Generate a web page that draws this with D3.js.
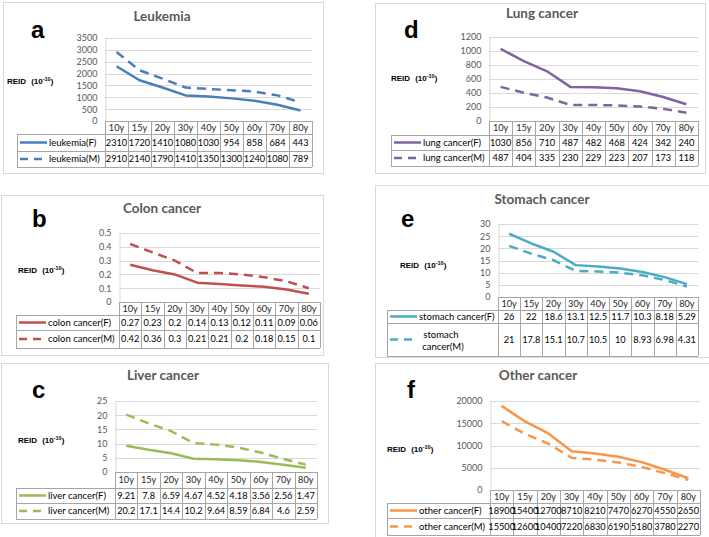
<!DOCTYPE html>
<html><head><meta charset="utf-8">
<script src="https://cdn.jsdelivr.net/npm/d3@7"></script>
<style>body{margin:0;background:#fff} svg{display:block}</style>
</head><body>
<script>
const ages = ["10y","15y","20y","30y","40y","50y","60y","70y","80y"];

const leukF = [2310,1720,1410,1080,1030,954,858,684,443];
const leukM = [2910,2140,1790,1410,1350,1300,1240,1080,789];
const colonF = [0.27,0.23,0.2,0.14,0.13,0.12,0.11,0.09,0.06];
const colonM = [0.42,0.36,0.3,0.21,0.21,0.2,0.18,0.15,0.1];
const liverF = [9.21,7.8,6.59,4.67,4.52,4.18,3.56,2.56,1.47];
const liverM = [20.2,17.1,14.4,10.2,9.64,8.59,6.84,4.6,2.59];
const lungF = [1030,856,710,487,482,468,424,342,240];
const lungM = [487,404,335,230,229,223,207,173,118];
const stomachF = [26,22,18.6,13.1,12.5,11.7,10.3,8.18,5.29];
const stomachM = [21,17.8,15.1,10.7,10.5,10,8.93,6.98,4.31];
const otherF = [18900,15400,12700,8710,8210,7470,6270,4550,2650];
const otherM = [15500,12600,10400,7220,6830,6190,5180,3780,2270];

const leukTicks = [0,500,1000,1500,2000,2500,3000,3500];
const colonTicks = [0,0.1,0.2,0.3,0.4,0.5];
const liverTicks = [0,5,10,15,20,25];
const lungTicks = [0,200,400,600,800,1000,1200];
const stomachTicks = [0,5,10,15,20,25,30];
const otherTicks = [0,5000,10000,15000,20000];

const panels = [
 {letter:"a", title:"Leukemia", name:"leukemia", F:leukF, M:leukM, ticks:leukTicks, color:"#4a7ebb",
  box:[3,2,320,171], px:[105,312], py:[38,121], rows:[134,151,167], lx:17, tp:[162,21], lp:[31,38], rp:[7,84]},
 {letter:"b", title:"Colon cancer", name:"colon cancer", F:colonF, M:colonM, ticks:colonTicks, color:"#c0504d",
  box:[1,195,322,160], px:[119,320], py:[233,302], rows:[315,330,348], lx:16, tp:[162,213], lp:[32,227], rp:[18,273]},
 {letter:"c", title:"Liver cancer", name:"liver cancer", F:liverF, M:liverM, ticks:liverTicks, color:"#9bbb59",
  box:[1,363,327,160], px:[115,317], py:[401,472], rows:[488,503,519], lx:16, tp:[163,380], lp:[32,398], rp:[18,443]},
 {letter:"d", title:"Lung cancer", name:"lung cancer", F:lungF, M:lungM, ticks:lungTicks, color:"#8064a2",
  box:[375,3,330,170], px:[489,698], py:[37,121], rows:[135,150,166], lx:391, tp:[542,18], lp:[404,38], rp:[391,81]},
 {letter:"e", title:"Stomach cancer", name:"stomach cancer", F:stomachF, M:stomachM, ticks:stomachTicks, color:"#4bacc6",
  box:[375,185,336,172], px:[498,698], py:[224,297], rows:[310,323,356], lx:387, tp:[542,204], lp:[401,227], rp:[400,268], wrapM:true},
 {letter:"f", title:"Other cancer", name:"other cancer", F:otherF, M:otherM, ticks:otherTicks, color:"#f79646",
  box:[375,363,336,176], px:[490,700], py:[401,490], rows:[503,518,535], lx:387, tp:[538,380], lp:[407,398], rp:[387,452]}
];

const svg = d3.select("body").append("svg").attr("width",709).attr("height",537)
  .style("font-family","Lato, 'Open Sans', sans-serif");

const tableColor = "#a6a6a6";
const gridColor = "#d9d9d9";

panels.forEach(p => {
  const g = svg.append("g");
  g.append("rect").attr("x",p.box[0]+0.5).attr("y",p.box[1]+0.5).attr("width",p.box[2]).attr("height",p.box[3])
    .attr("fill","#fff").attr("stroke","#d9d9d9");

  g.append("text").attr("x",p.tp[0]).attr("y",p.tp[1]).attr("text-anchor","middle")
    .attr("font-size",13.5).attr("font-weight","bold").attr("fill","#595959").text(p.title);

  g.append("text").attr("x",p.lp[0]).attr("y",p.lp[1])
    .style("font-family","'Liberation Sans', Arial, sans-serif")
    .attr("font-size",24).attr("font-weight","bold").attr("fill","#000").text(p.letter);

  const r = g.append("text").attr("x",p.rp[0]).attr("y",p.rp[1])
    .style("font-family","'Liberation Sans', Arial, sans-serif")
    .attr("font-size",8).attr("font-weight","bold").attr("fill","#000");
  r.append("tspan").text("REID");
  r.append("tspan").attr("dx",5).text("(10");
  r.append("tspan").attr("font-size",5.5).attr("dy",-3).text("-10");
  r.append("tspan").attr("dy",3).text(")");

  const x = d3.scaleBand().domain(ages).range(p.px).paddingInner(0).paddingOuter(0);
  const bw = x.bandwidth();
  const cx = d => x(d) + bw/2;
  const y = d3.scaleLinear().domain([0, d3.max(p.ticks)]).range([p.py[1], p.py[0]]);

  g.append("g").selectAll("line").data(p.ticks.filter(t => t > 0)).join("line")
    .attr("x1",p.px[0]).attr("x2",p.px[1]).attr("y1",d=>Math.round(y(d))+0.5).attr("y2",d=>Math.round(y(d))+0.5)
    .attr("stroke",gridColor);

  const ax = g.append("g").attr("transform",`translate(${p.px[0]+0.5},0)`)
    .call(d3.axisLeft(y).tickValues(p.ticks).tickSize(0).tickPadding(8).tickFormat(d3.format("")));
  ax.select(".domain").attr("stroke",gridColor);
  ax.selectAll("text").attr("fill","#595959").attr("font-size",9).style("font-family","Lato, 'Open Sans', sans-serif");

  const line = d3.line().x((d,i)=>cx(ages[i])).y(d=>y(d));
  g.append("path").datum(p.F).attr("d",line).attr("fill","none").attr("stroke",p.color)
    .attr("stroke-width",2.5).attr("stroke-linejoin","round");
  g.append("path").datum(p.M).attr("d",line).attr("fill","none").attr("stroke",p.color)
    .attr("stroke-width",2.5).attr("stroke-dasharray","9,6");

  const [r0,r1,r2] = p.rows;
  const z = p.py[1];
  const tl = g.append("g").attr("stroke",tableColor).attr("shape-rendering","crispEdges");
  [[p.px[0],z],[p.lx,r0],[p.lx,r1],[p.lx,r2]].forEach(([x0,yy]) =>
    tl.append("line").attr("x1",x0).attr("x2",p.px[1]).attr("y1",yy+0.5).attr("y2",yy+0.5));
  tl.append("line").attr("x1",p.lx+0.5).attr("x2",p.lx+0.5).attr("y1",r0).attr("y2",r2);
  ages.forEach(a => {
    tl.append("line").attr("x1",Math.round(x(a)+bw)+0.5).attr("x2",Math.round(x(a)+bw)+0.5).attr("y1",z).attr("y2",r2);
  });
  tl.append("line").attr("x1",p.px[0]+0.5).attr("x2",p.px[0]+0.5).attr("y1",z).attr("y2",r2);

  const fs = 9.2, lfs = 9.5;
  g.append("g").selectAll("text").data(ages).join("text")
    .attr("x",d=>cx(d)).attr("y",(z+r0)/2+3.3).attr("text-anchor","middle")
    .attr("font-size",fs).attr("fill","#262626").text(d=>d);
  [[p.F,r0,r1],[p.M,r1,r2]].forEach(([vals,ya,yb]) => {
    g.append("g").selectAll("text").data(vals).join("text")
      .attr("x",(d,i)=>cx(ages[i])).attr("y",(ya+yb)/2+3.3).attr("text-anchor","middle")
      .attr("font-size",fs).attr("fill","#000").text(d=>String(d));
  });

  const k0 = p.lx + 3, k1 = p.lx + 30;
  const ymF = (r0+r1)/2, ymM = (r1+r2)/2;
  g.append("line").attr("x1",k0).attr("x2",k1).attr("y1",ymF).attr("y2",ymF)
    .attr("stroke",p.color).attr("stroke-width",2.5);
  g.append("line").attr("x1",k0).attr("x2",k1).attr("y1",ymM).attr("y2",ymM)
    .attr("stroke",p.color).attr("stroke-width",2.5).attr("stroke-dasharray","8,6");
  g.append("text").attr("x",k1+2).attr("y",ymF+3.4).attr("font-size",lfs).attr("fill","#000")
    .text(p.name + "(F)");
  if (p.wrapM) {
    const cxm = 441;
    const tx = g.append("text").attr("x",cxm).attr("y",ymM-2).attr("text-anchor","middle")
      .attr("font-size",lfs).attr("fill","#000");
    const parts = p.name.split(" ");
    tx.append("tspan").text(parts[0]);
    tx.append("tspan").attr("x",cxm+2).attr("dy",12).text(parts.slice(1).join(" ") + "(M)");
  } else {
    g.append("text").attr("x",k1+2).attr("y",ymM+3.4).attr("font-size",lfs).attr("fill","#000")
      .text(p.name + "(M)");
  }
});
</script>
</body></html>
